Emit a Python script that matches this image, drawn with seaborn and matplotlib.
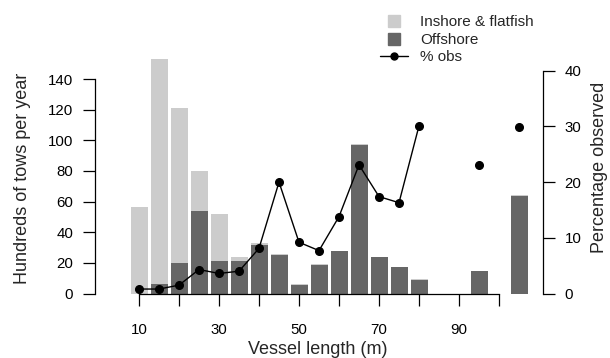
import numpy as np
import matplotlib
matplotlib.use("Agg")
import matplotlib.pyplot as plt
import seaborn as sns
from matplotlib.lines import Line2D

sns.set_style("white")
plt.rcParams['font.family'] = ['Liberation Sans', 'DejaVu Sans']

lengths = [10, 15, 20, 25, 30, 35, 40, 45, 50, 55, 60, 65, 70, 75, 80, 85, 90, 95, 100, 105]
inshore_total = [56.6, 153, 121, 80, 52, 24, 33, 26, 6, 19, 28, 97.5, 24, 17.5, 9.5, 0, 0, 15, 0, 64]
offshore = [0, 6.2, 20, 54, 21.4, 21.4, 31.9, 25.3, 5.8, 18.4, 27.5, 96.7, 23.6, 17.1, 9.0, 0, 0, 14.5, 0, 63.6]
pct_obs = [0.8, 0.8, 1.5, 4.3, 3.6, 4.0, 8.1, 20.0, 9.2, 7.7, 13.8, 23.1, 17.4, 16.3, 30.1,
           np.nan, np.nan, 23.1, np.nan, 29.9]
xticks = [10, 20, 30, 40, 50, 60, 70, 80, 90, 100]
xticklabels = ["10", "", "30", "", "50", "", "70", "", "90", ""]

light = "#cccccc"
dark = "#666666"

fig = plt.figure(figsize=(6.1, 3.58), dpi=100)
W, H = 610, 358
ax = fig.add_axes([95 / W, (H - 293.5) / H, 448 / W, 243.5 / H])

sns.barplot(x=lengths, y=inshore_total, native_scale=True, width=0.85, color=light,
            saturation=1, linewidth=0, errorbar=None, ax=ax)
sns.barplot(x=lengths, y=offshore, native_scale=True, width=0.85, color=dark,
            saturation=1, linewidth=0, errorbar=None, ax=ax)

px_per_m = 4.0
ax.set_xlim(10 - 44 / px_per_m, 10 + 404 / px_per_m)
ax.set_ylim(0, 243.5 / 1.532)
ax.set_xticks(xticks)
ax.set_xticklabels(xticklabels)
ax.set_yticks([0, 20, 40, 60, 80, 100, 120, 140])
for s in ["top", "right"]:
    ax.spines[s].set_visible(False)
ax.spines["left"].set_bounds(0, 140)
ax.spines["bottom"].set_bounds(10, 100)
for s in ["left", "bottom"]:
    ax.spines[s].set_color("black")
    ax.spines[s].set_linewidth(0.9)
ax.tick_params(axis="both", direction="out", length=8.6, width=0.9, colors="black",
               labelsize=10.8, pad=7, left=True, bottom=True)
ax.tick_params(axis="x", pad=13)
ax.set_xlabel("")
ax.set_ylabel("")

ax2 = ax.twinx()
ax2.set_position(ax.get_position())
ax2.plot(lengths, pct_obs, color="black", linewidth=1, marker="o", markersize=5.5,
         clip_on=False)
ax2.set_ylim(0, 243.5 / 5.57)
ax2.set_yticks([0, 10, 20, 30, 40])
for s in ["top", "left", "bottom"]:
    ax2.spines[s].set_visible(False)
ax2.spines["right"].set_bounds(0, 40)
ax2.spines["right"].set_color("black")
ax2.spines["right"].set_linewidth(0.9)
ax2.tick_params(axis="y", direction="out", length=8.6, width=0.9, colors="black",
                labelsize=10.8, pad=7, right=True)
ax2.grid(False)
ax.grid(False)

fig.text(22.5 / W, 1 - 178 / H, "Hundreds of tows per year", rotation=90, ha="center",
         va="center", fontsize=13)
fig.text(599 / W, 1 - 167 / H, "Percentage observed", rotation=90, ha="center",
         va="center", fontsize=13)
fig.text(318 / W, 1 - 349 / H, "Vessel length (m)", ha="center", va="center", fontsize=13)

handles = [
    Line2D([], [], linestyle="none", marker="s", markersize=9, color=light),
    Line2D([], [], linestyle="none", marker="s", markersize=9, color=dark),
    Line2D([], [], color="black", linewidth=1, marker="o", markersize=5),
]
labels = ["Inshore & flatfish", "Offshore", "% obs"]
fig.legend(handles, labels, loc="upper left", bbox_to_anchor=(380 / W, 1 - 15.5 / H),
           frameon=False, fontsize=11, handlelength=1.8, handletextpad=0.85,
           labelspacing=0.22, borderpad=0, borderaxespad=0)

fig.savefig("out.png", dpi=100)
